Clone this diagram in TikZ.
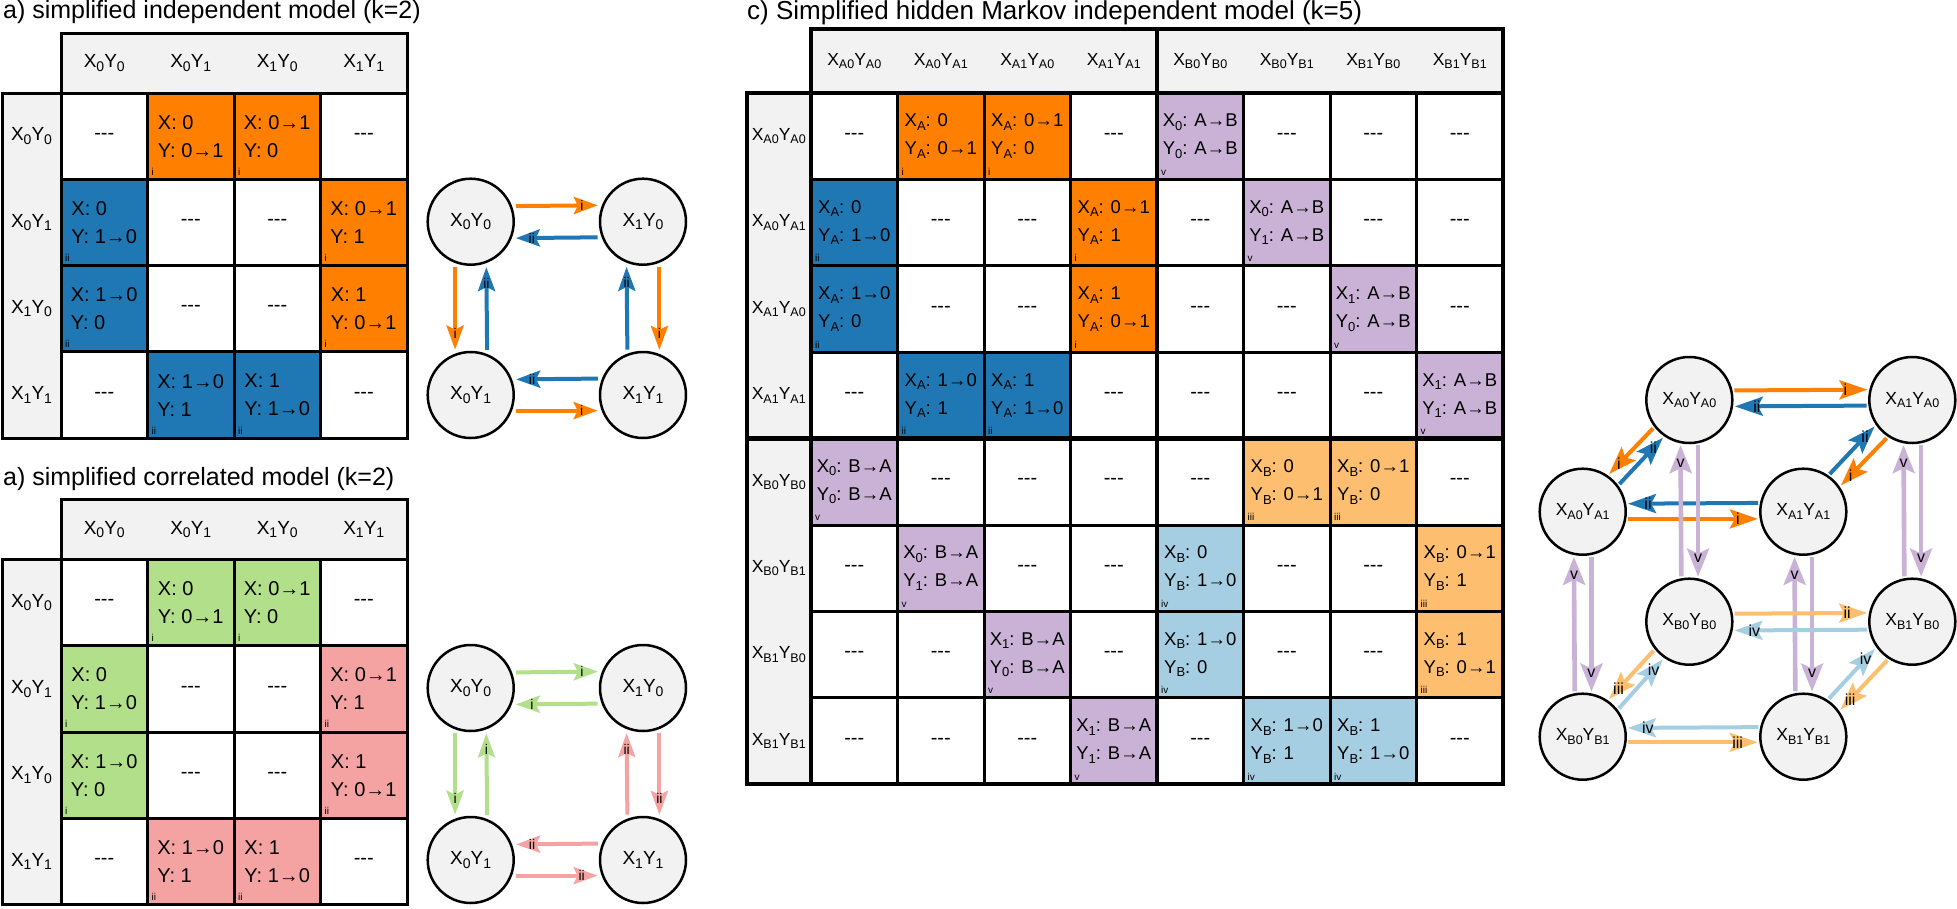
\documentclass[tikz,border=0pt]{standalone}
\usepackage{fontspec}
\setmainfont{Liberation Sans}
\usetikzlibrary{arrows.meta,calc}
\definecolor{cOr}{HTML}{FF7F00}
\definecolor{cBl}{HTML}{1F78B4}
\definecolor{cLOr}{HTML}{FDBF6F}
\definecolor{cLBl}{HTML}{A6CEE3}
\definecolor{cPu}{HTML}{CAB2D6}
\definecolor{cGr}{HTML}{B2DF8A}
\definecolor{cPk}{HTML}{F4A3A2}
\definecolor{hgray}{HTML}{F2F2F2}
\newcommand\sbs[2][13]{\raisebox{-3.5pt}{\fontsize{#1}{#1}\selectfont #2}}
\newcommand\dsh{{\fontsize{20}{20}\selectfont -\kern0pt-\kern0pt-}}
\newcommand\labA[2]{X\sbs[14]{#1}Y\sbs[14]{#2}}
\newcommand\labC[2]{X\sbs[12.5]{#1}Y\sbs[12.5]{#2}}
\newcount\lnkc
% #1 from, #2 to, #3 side offset, #4 arrow style, #5 label, #6 label distance from tip, #7 label style
\newcommand\lnk[7]{%
  \pgfpointdiff{\pgfpointanchor{#1}{center}}{\pgfpointanchor{#2}{center}}%
  \pgfgetlastxy{\lnkdx}{\lnkdy}%
  \pgfmathsetmacro\lnkA{atan2(\lnkdy,\lnkdx)}%
  \pgfmathsetmacro\lnkT{asin((#3)/\Rout)}%
  \pgfmathsetmacro\lnkS{\lnkA+\lnkT}%
  \pgfmathsetmacro\lnkE{\lnkA+180-\lnkT}%
  \global\advance\lnkc by 1\relax
  \draw[#4] (#1.\lnkS) -- (#2.\lnkE);%
  \node[#7] (al\the\lnkc) at ($(#2.\lnkE)!#6!(#1.\lnkS)$) {#5};%
}
\newcommand\acell[6]{%
  \node[cellA,fill=#4] (#1-#2-#3) at ({61+86.5*(#3-0.5)},{\yoff+93+86.3*(#2-0.5)}) {#5};
  \node[tagl] (#1-#2-#3-t) at (#1-#2-#3.south west) {#6};}
\newcommand\ccell[5]{%
  \node[cellC,fill=#3] (tc-#1-#2) at ({811+86.5*(#2-0.5)},{93+86.4*(#1-0.5)}) {#4};
  \node[tagl] (tc-#1-#2-t) at (tc-#1-#2.south west) {#5};}
\tikzset{
  hdr/.style={fill=hgray, draw=black, line width=3pt},
  cellA/.style={draw=black, line width=3pt, minimum width=86.5pt, minimum height=86.3pt,
    inner sep=0pt, outer sep=0pt, align=left, font=\fontsize{20}{28}\selectfont},
  cellC/.style={cellA, minimum height=86.4pt, font=\fontsize{18.5}{28}\selectfont},
  tagl/.style={anchor=south west, inner sep=0pt, xshift=4pt, yshift=4pt, font=\fontsize{10}{10}\selectfont},
  hlabA/.style={font=\fontsize{19}{19}\selectfont, inner sep=0pt},
  hlabC/.style={font=\fontsize{17.5}{17.5}\selectfont, inner sep=0pt},
  gnodeA/.style={circle, draw=black, line width=2.5pt, fill=hgray, minimum size=86pt,
    inner sep=0pt, outer sep=5pt, font=\fontsize{19}{19}\selectfont},
  gnodeC/.style={gnodeA, outer sep=3pt, font=\fontsize{17.5}{17.5}\selectfont},
  arA/.style={line width=4pt, -{Stealth[length=24pt,width=17pt,inset=4pt]}},
  arC/.style={line width=4pt, -{Stealth[length=28pt,width=19pt,inset=5pt]}},
  arP/.style={line width=4.6pt, -{Stealth[length=28pt,width=22pt,inset=5pt]}},
  albA/.style={font=\fontsize{14}{14}\selectfont, inner sep=0pt},
  albC/.style={font=\fontsize{16}{16}\selectfont, inner sep=0pt},
  ttl/.style={anchor=base west, inner sep=0pt, font=\fontsize{25}{30}\selectfont},
}
\begin{document}
\begin{tikzpicture}[x=1pt,y=-1pt]
\fill[white] (0,0) rectangle (1957,908);
\useasboundingbox (0,0) rectangle (1957,908);

% ---------------- panel a (independent) ----------------
\node[ttl] (titA) at (3,18) {a) simplified independent model (k=2)};
\def\yoff{0}
\draw[hdr] (61,33) rectangle (407,93);
\draw[hdr] (2,93) rectangle (61,438.2);
\foreach \c/\a/\b in {1/0/0,2/0/1,3/1/0,4/1/1}{
  \node[hlabA] (ta-h\c) at ({61+86.5*(\c-0.5)},63) {\labA{\a}{\b}};
  \node[hlabA] (ta-r\c) at (31.5,{93+86.3*(\c-0.5)}) {\labA{\a}{\b}};
}
\foreach \r/\c in {1/1,1/4,2/2,2/3,3/2,3/3,4/1,4/4}
  \node[cellA,fill=white] (ta-\r-\c) at ({61+86.5*(\c-0.5)},{93+86.3*(\r-0.5)}) {\dsh};
\acell{ta}{1}{2}{cOr}{X: 0\\Y: 0→1}{i}
\acell{ta}{1}{3}{cOr}{X: 0→1\\Y: 0}{i}
\acell{ta}{2}{1}{cBl}{X: 0\\Y: 1→0}{ii}
\acell{ta}{2}{4}{cOr}{X: 0→1\\Y: 1}{i}
\acell{ta}{3}{1}{cBl}{X: 1→0\\Y: 0}{ii}
\acell{ta}{3}{4}{cOr}{X: 1\\Y: 0→1}{i}
\acell{ta}{4}{2}{cBl}{X: 1→0\\Y: 1}{ii}
\acell{ta}{4}{3}{cBl}{X: 1\\Y: 1→0}{ii}

\node[gnodeA] (ga00) at (470.7,221.7) {\labA{0}{0}};
\node[gnodeA] (ga10) at (643,221.7) {\labA{1}{0}};
\node[gnodeA] (ga01) at (470.7,395) {\labA{0}{1}};
\node[gnodeA] (ga11) at (643,395) {\labA{1}{1}};
\def\Rout{48}
\lnk{ga00}{ga10}{16}{arA,cOr}{i}{16pt}{albA}
\lnk{ga10}{ga00}{16}{arA,cBl}{ii}{16pt}{albA}
\lnk{ga00}{ga01}{-16}{arA,cOr}{i}{16pt}{albA}
\lnk{ga01}{ga00}{-16}{arA,cBl}{ii}{16pt}{albA}
\lnk{ga11}{ga10}{16}{arA,cBl}{ii}{16pt}{albA}
\lnk{ga10}{ga11}{16}{arA,cOr}{i}{16pt}{albA}
\lnk{ga11}{ga01}{-16}{arA,cBl}{ii}{16pt}{albA}
\lnk{ga01}{ga11}{-16}{arA,cOr}{i}{16pt}{albA}

% ---------------- panel a (correlated) ----------------
\node[ttl] (titB) at (3,485) {a) simplified correlated model (k=2)};
\def\yoff{466.5}
\draw[hdr] (61,499.5) rectangle (407,559.5);
\draw[hdr] (2,559.5) rectangle (61,904.7);
\foreach \c/\a/\b in {1/0/0,2/0/1,3/1/0,4/1/1}{
  \node[hlabA] (tb-h\c) at ({61+86.5*(\c-0.5)},529.5) {\labA{\a}{\b}};
  \node[hlabA] (tb-r\c) at (31.5,{559.5+86.3*(\c-0.5)}) {\labA{\a}{\b}};
}
\foreach \r/\c in {1/1,1/4,2/2,2/3,3/2,3/3,4/1,4/4}
  \node[cellA,fill=white] (tb-\r-\c) at ({61+86.5*(\c-0.5)},{559.5+86.3*(\r-0.5)}) {\dsh};
\acell{tb}{1}{2}{cGr}{X: 0\\Y: 0→1}{i}
\acell{tb}{1}{3}{cGr}{X: 0→1\\Y: 0}{i}
\acell{tb}{2}{1}{cGr}{X: 0\\Y: 1→0}{i}
\acell{tb}{2}{4}{cPk}{X: 0→1\\Y: 1}{ii}
\acell{tb}{3}{1}{cGr}{X: 1→0\\Y: 0}{i}
\acell{tb}{3}{4}{cPk}{X: 1\\Y: 0→1}{ii}
\acell{tb}{4}{2}{cPk}{X: 1→0\\Y: 1}{ii}
\acell{tb}{4}{3}{cPk}{X: 1\\Y: 1→0}{ii}

\node[gnodeA] (gb00) at (470.7,688) {\labA{0}{0}};
\node[gnodeA] (gb10) at (643,688) {\labA{1}{0}};
\node[gnodeA] (gb01) at (470.7,860) {\labA{0}{1}};
\node[gnodeA] (gb11) at (643,860) {\labA{1}{1}};
\lnk{gb00}{gb10}{16}{arA,cGr}{i}{16pt}{albA}
\lnk{gb10}{gb00}{16}{arA,cGr}{i}{16pt}{albA}
\lnk{gb00}{gb01}{-16}{arA,cGr}{i}{16pt}{albA}
\lnk{gb01}{gb00}{-16}{arA,cGr}{i}{16pt}{albA}
\lnk{gb11}{gb10}{16}{arA,cPk}{ii}{16pt}{albA}
\lnk{gb10}{gb11}{16}{arA,cPk}{ii}{16pt}{albA}
\lnk{gb11}{gb01}{-16}{arA,cPk}{ii}{16pt}{albA}
\lnk{gb01}{gb11}{-16}{arA,cPk}{ii}{16pt}{albA}

% ---------------- panel c ----------------
\node[ttl, font=\fontsize{26}{30}\selectfont] (titC) at (747,19) {c) Simplified hidden Markov independent model (k=5)};
\draw[hdr] (811,29) rectangle (1503,93);
\draw[hdr] (746.5,93) rectangle (811,784.2);
\foreach \i/\a/\b in {1/A0/A0,2/A0/A1,3/A1/A0,4/A1/A1,5/B0/B0,6/B0/B1,7/B1/B0,8/B1/B1}{
  \node[hlabC] (tc-h\i) at ({811+86.5*(\i-0.5)},61) {\labC{\a}{\b}};
  \node[hlabC] (tc-r\i) at (778.75,{93+86.4*(\i-0.5)}) {\labC{\a}{\b}};
}
\foreach \r/\c in {1/1,1/4,1/6,1/7,1/8, 2/2,2/3,2/5,2/7,2/8, 3/2,3/3,3/5,3/6,3/8,
                   4/1,4/4,4/5,4/6,4/7, 5/2,5/3,5/4,5/5,5/8, 6/1,6/3,6/4,6/6,6/7,
                   7/1,7/2,7/4,7/6,7/7, 8/1,8/2,8/3,8/5,8/8}
  \node[cellC,fill=white] (tc-\r-\c) at ({811+86.5*(\c-0.5)},{93+86.4*(\r-0.5)}) {\dsh};
\ccell{1}{2}{cOr}{X\sbs{A}: 0\\Y\sbs{A}: 0→1}{i}
\ccell{1}{3}{cOr}{X\sbs{A}: 0→1\\Y\sbs{A}: 0}{i}
\ccell{1}{5}{cPu}{X\sbs{0}: A→B\\Y\sbs{0}: A→B}{v}
\ccell{2}{1}{cBl}{X\sbs{A}: 0\\Y\sbs{A}: 1→0}{ii}
\ccell{2}{4}{cOr}{X\sbs{A}: 0→1\\Y\sbs{A}: 1}{i}
\ccell{2}{6}{cPu}{X\sbs{0}: A→B\\Y\sbs{1}: A→B}{v}
\ccell{3}{1}{cBl}{X\sbs{A}: 1→0\\Y\sbs{A}: 0}{ii}
\ccell{3}{4}{cOr}{X\sbs{A}: 1\\Y\sbs{A}: 0→1}{i}
\ccell{3}{7}{cPu}{X\sbs{1}: A→B\\Y\sbs{0}: A→B}{v}
\ccell{4}{2}{cBl}{X\sbs{A}: 1→0\\Y\sbs{A}: 1}{ii}
\ccell{4}{3}{cBl}{X\sbs{A}: 1\\Y\sbs{A}: 1→0}{ii}
\ccell{4}{8}{cPu}{X\sbs{1}: A→B\\Y\sbs{1}: A→B}{v}
\ccell{5}{1}{cPu}{X\sbs{0}: B→A\\Y\sbs{0}: B→A}{v}
\ccell{5}{6}{cLOr}{X\sbs{B}: 0\\Y\sbs{B}: 0→1}{iii}
\ccell{5}{7}{cLOr}{X\sbs{B}: 0→1\\Y\sbs{B}: 0}{iii}
\ccell{6}{2}{cPu}{X\sbs{0}: B→A\\Y\sbs{1}: B→A}{v}
\ccell{6}{5}{cLBl}{X\sbs{B}: 0\\Y\sbs{B}: 1→0}{iv}
\ccell{6}{8}{cLOr}{X\sbs{B}: 0→1\\Y\sbs{B}: 1}{iii}
\ccell{7}{3}{cPu}{X\sbs{1}: B→A\\Y\sbs{0}: B→A}{v}
\ccell{7}{5}{cLBl}{X\sbs{B}: 1→0\\Y\sbs{B}: 0}{iv}
\ccell{7}{8}{cLOr}{X\sbs{B}: 1\\Y\sbs{B}: 0→1}{iii}
\ccell{8}{4}{cPu}{X\sbs{1}: B→A\\Y\sbs{1}: B→A}{v}
\ccell{8}{6}{cLBl}{X\sbs{B}: 1→0\\Y\sbs{B}: 1}{iv}
\ccell{8}{7}{cLBl}{X\sbs{B}: 1\\Y\sbs{B}: 1→0}{iv}
\draw[line width=4.5pt] (1157,29) -- (1157,784.2);
\draw[line width=4.5pt] (746.5,438.6) -- (1503,438.6);
\draw[line width=4pt] (811,29) rectangle (1503,784.2);
\draw[line width=4pt] (746.5,93) -- (1503,93);
\draw[line width=4pt] (746.5,93) rectangle (811,784.2);

% graph c
\node[gnodeC] (gA00) at (1689.3,400) {\labC{A0}{A0}};
\node[gnodeC] (gA10) at (1912.3,400) {\labC{A1}{A0}};
\node[gnodeC] (gA01) at (1582.7,511.7) {\labC{A0}{A1}};
\node[gnodeC] (gA11) at (1803.3,511.7) {\labC{A1}{A1}};
\node[gnodeC] (gB00) at (1689.3,621.7) {\labC{B0}{B0}};
\node[gnodeC] (gB10) at (1912.3,621.7) {\labC{B1}{B0}};
\node[gnodeC] (gB01) at (1582.7,736.7) {\labC{B0}{B1}};
\node[gnodeC] (gB11) at (1803.3,736.7) {\labC{B1}{B1}};
\def\Rout{46}
\lnk{gA00}{gA10}{10}{arC,cOr}{i}{22pt}{albC}
\lnk{gA10}{gA00}{6}{arC,cBl}{ii}{22pt}{albC}
\lnk{gA01}{gA11}{-7.5}{arC,cOr}{i}{20pt}{albC}
\lnk{gA11}{gA01}{-8}{arC,cBl}{ii}{20pt}{albC}
\lnk{gA00}{gA01}{-7}{arC,cOr}{i}{14pt}{albC}
\lnk{gA01}{gA00}{-7}{arC,cBl}{ii}{14pt}{albC}
\lnk{gA11}{gA10}{8}{arC,cBl}{ii}{14pt}{albC}
\lnk{gA10}{gA11}{8}{arC,cOr}{i}{14pt}{albC}
\lnk{gB00}{gA00}{8}{arP,cPu}{v}{18pt}{albC}
\lnk{gA00}{gB00}{8}{arP,cPu}{v}{18pt}{albC}
\lnk{gB10}{gA10}{8}{arP,cPu}{v}{18pt}{albC}
\lnk{gA10}{gB10}{8}{arP,cPu}{v}{18pt}{albC}
\lnk{gB01}{gA01}{8}{arP,cPu}{v}{18pt}{albC}
\lnk{gA01}{gB01}{8}{arP,cPu}{v}{18pt}{albC}
\lnk{gB11}{gA11}{8}{arP,cPu}{v}{18pt}{albC}
\lnk{gA11}{gB11}{8}{arP,cPu}{v}{18pt}{albC}
\lnk{gB00}{gB10}{8}{arC,cLOr}{ii}{20pt}{albC}
\lnk{gB10}{gB00}{8}{arC,cLBl}{iv}{20pt}{albC}
\lnk{gB00}{gB01}{-7}{arC,cLOr}{iii}{14pt}{albC}
\lnk{gB01}{gB00}{-7}{arC,cLBl}{iv}{14pt}{albC}
\lnk{gB10}{gB11}{8}{arC,cLOr}{iii}{14pt}{albC}
\lnk{gB11}{gB10}{8}{arC,cLBl}{iv}{14pt}{albC}
\lnk{gB11}{gB01}{-9}{arC,cLBl}{iv}{20pt}{albC}
\lnk{gB01}{gB11}{-6}{arC,cLOr}{iii}{20pt}{albC}
\end{tikzpicture}
\end{document}
